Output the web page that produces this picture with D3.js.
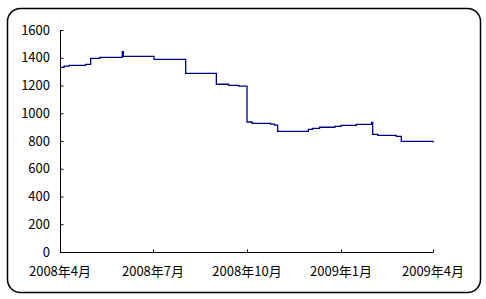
<!DOCTYPE html>
<html>
<head>
<meta charset="utf-8">
<script src="https://cdn.jsdelivr.net/npm/d3@7"></script>
<style>
  body { margin: 0; background: #fff; }
  text { font-family: "Noto Sans CJK SC", sans-serif; font-size: 13px; fill: #000; }
</style>
</head>
<body>
<div id="chart"></div>
<script>
// dates where the price changes, and the price from that date on
const changeDates = [
  '2008-04-01', '2008-04-05', '2008-04-10', '2008-04-26', '2008-05-01', '2008-05-10',
  '2008-06-01', '2008-06-02', '2008-07-02', '2008-08-02', '2008-09-01', '2008-09-13',
  '2008-09-23', '2008-10-01', '2008-10-06', '2008-10-24', '2008-10-28', '2008-10-31',
  '2008-11-30', '2008-12-04', '2008-12-11', '2008-12-26', '2009-01-01', '2009-01-16',
  '2009-01-31', '2009-02-01', '2009-02-06', '2009-02-24', '2009-03-01', '2009-04-01'
]
const prices = [
  1331, 1340, 1345, 1352, 1396, 1403,
  1444, 1410, 1389, 1288, 1209, 1201,
  1196, 937, 927, 922, 915, 870,
  884, 891, 899, 906, 913, 920,
  934, 848, 841, 834, 798, 790
]
const yTicks = [0, 200, 400, 600, 800, 1000, 1200, 1400, 1600]
const xTicks = ['2008-04-01', '2008-07-01', '2008-10-01', '2009-01-01', '2009-04-01']
const xTickLabels = ['2008年4月', '2008年7月', '2008年10月', '2009年1月', '2009年4月']

const width = 486
const height = 299
const parse = d3.timeParse('%Y-%m-%d')

const data = changeDates.map((d, i) => ({ date: parse(d), value: prices[i] }))

const svg = d3.select('#chart')
  .append('svg')
  .attr('width', width)
  .attr('height', height)

// rounded frame
svg.append('rect')
  .attr('x', 7.5)
  .attr('y', 8.5)
  .attr('width', 473)
  .attr('height', 284)
  .attr('rx', 13)
  .attr('fill', 'none')
  .attr('stroke', '#000')
  .attr('stroke-width', 1.5)

const x = d3.scaleTime()
  .domain([parse(xTicks[0]), parse(xTicks[xTicks.length - 1])])
  .range([60, 433])

const y = d3.scaleLinear()
  .domain([0, 1600])
  .range([252, 30])

// y axis, ticks on the inside
const yAxis = svg.append('g')
  .attr('transform', 'translate(60.5,0)')
  .call(d3.axisRight(y).tickValues(yTicks).tickSize(3).tickFormat(''))
yAxis.select('.domain').attr('d', 'M0,' + y(1600) + 'V' + y(0))

svg.append('g')
  .selectAll('text')
  .data(yTicks)
  .join('text')
  .attr('x', 50)
  .attr('y', d => y(d))
  .attr('dy', '0.35em')
  .attr('text-anchor', 'end')
  .text(d => d)

// x axis, ticks pointing up
const xAxis = svg.append('g')
  .attr('transform', 'translate(0,' + (y(0) + 0.5) + ')')
  .call(d3.axisTop(x).tickValues(xTicks.map(parse)).tickSize(3).tickFormat(''))
xAxis.select('.domain').attr('d', 'M' + x.range()[0] + ',0H' + x.range()[1])

svg.append('g')
  .selectAll('text')
  .data(xTicks)
  .join('text')
  .attr('x', d => x(parse(d)))
  .attr('y', 276)
  .attr('text-anchor', 'middle')
  .text((d, i) => xTickLabels[i])

const line = d3.line()
  .x(d => x(d.date))
  .y(d => y(d.value))
  .curve(d3.curveStepAfter)

svg.append('path')
  .datum(data)
  .attr('d', line)
  .attr('fill', 'none')
  .attr('stroke', '#000080')
  .attr('stroke-width', 1.3)
</script>
</body>
</html>
